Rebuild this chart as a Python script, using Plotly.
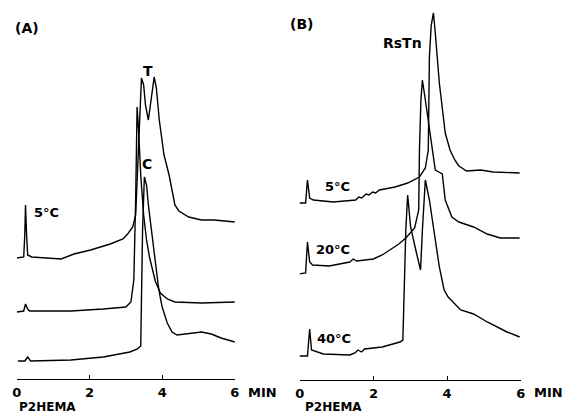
import plotly.graph_objects as go

# ---------------- Data (retention time in min, detector signal in arbitrary units) ----------------
# Panel A
a5_t = [0.00, 0.19, 0.22, 0.24, 0.27, 0.30, 0.41, 0.76, 1.22, 1.57, 2.03, 2.57, 2.92, 3.05, 3.19, 3.27,
        3.32, 3.38, 3.43, 3.49, 3.54, 3.62, 3.70, 3.78, 3.84, 3.92, 4.05, 4.19, 4.27, 4.35, 4.46, 4.73,
        5.08, 5.43, 6.00]
a5_s = [121, 122, 144, 174, 144, 124, 122, 121, 120, 125, 129, 135, 140, 145, 152, 164,
        209, 259, 301, 294, 274, 259, 279, 302, 291, 259, 224, 204, 189, 174, 168, 162,
        159, 159, 157]

a2_t = [0.00, 0.19, 0.24, 0.30, 0.35, 1.49, 2.38, 3.00, 3.14, 3.22, 3.27, 3.31, 3.35, 3.41, 3.49,
        3.57, 3.65, 3.73, 3.81, 3.95, 4.14, 4.35, 5.08, 6.00]
a2_s = [67, 68, 75, 70, 68, 68, 70, 72, 77, 99, 179, 272, 249, 204, 164,
        139, 122, 109, 98, 86, 80, 77, 76, 77]

a3_t = [0.03, 0.22, 0.30, 0.38, 1.49, 2.38, 3.11, 3.32, 3.41, 3.43, 3.46, 3.51, 3.57, 3.62, 3.73,
        3.84, 3.89, 3.95, 4.00, 4.14, 4.27, 4.41, 4.59, 4.81, 5.08, 5.35, 5.62, 6.00]
a3_s = [18, 18, 22, 18, 19, 22, 27, 30, 33, 79, 149, 202, 194, 174, 139,
        109, 94, 81, 72, 56, 47, 44, 45, 46, 47, 45, 41, 37]

# Panel B
b5_t = [-0.05, 0.16, 0.21, 0.27, 0.37, 0.91, 1.52, 1.60, 1.68, 1.80, 1.88, 1.98, 2.06, 2.16, 2.59,
        2.93, 3.25, 3.41, 3.49, 3.51, 3.52, 3.57, 3.63, 3.68, 3.79, 3.95, 4.08, 4.21, 4.32, 4.53,
        4.91, 5.25, 5.97]
b5_s = [177, 177, 200, 182, 180, 178, 180, 183, 182, 186, 185, 188, 187, 190, 193,
        197, 203, 212, 230, 280, 323, 355, 367, 347, 297, 247, 230, 220, 214, 209,
        210, 208, 207]

b20_t = [-0.05, 0.16, 0.21, 0.27, 0.35, 0.80, 1.36, 1.45, 1.55, 2.00, 2.24, 2.69, 2.88, 3.12, 3.23,
         3.25, 3.29, 3.33, 3.41, 3.52, 3.60, 3.68, 3.87, 3.95, 4.13, 4.32, 4.56, 4.72, 5.09, 5.44,
         5.97]
b20_s = [106, 107, 138, 118, 115, 114, 118, 121, 119, 121, 125, 136, 142, 152, 170,
         230, 280, 300, 280, 250, 230, 210, 206, 180, 163, 158, 155, 153, 146, 142,
         142]

b40_t = [-0.05, 0.21, 0.27, 0.32, 0.64, 1.36, 1.50, 1.58, 1.68, 1.76, 2.24, 2.72, 2.80, 2.83, 2.88,
         2.93, 3.01, 3.15, 3.28, 3.33, 3.39, 3.41, 3.52, 3.65, 3.79, 3.92, 4.03, 4.37, 4.72, 5.09,
         5.63, 5.97]
b40_s = [24, 24, 51, 30, 26, 25, 27, 30, 28, 31, 33, 38, 40, 80, 150,
         185, 153, 130, 110, 150, 197, 200, 180, 147, 113, 90, 83, 70, 66, 58,
         48, 43]

tick_vals = [0, 2, 4, 6]
tick_text = ["0", "2", "4", "6"]

FONT = "DejaVu Sans"
W, H = 568, 415

fig = go.Figure()
line = dict(color="black", width=1.4)
for t, s in [(a5_t, a5_s), (a2_t, a2_s), (a3_t, a3_s)]:
    fig.add_trace(go.Scatter(x=t, y=s, mode="lines", line=line, xaxis="x", yaxis="y",
                             showlegend=False, hoverinfo="skip", cliponaxis=False))
for t, s in [(b5_t, b5_s), (b20_t, b20_s), (b40_t, b40_s)]:
    fig.add_trace(go.Scatter(x=t, y=s, mode="lines", line=line, xaxis="x2", yaxis="y2",
                             showlegend=False, hoverinfo="skip", cliponaxis=False))

xa = dict(range=[0, 6], showline=True, linecolor="black", linewidth=1.3, ticks="inside",
          ticklen=4, tickwidth=1.3, tickcolor="black", tickvals=tick_vals, ticktext=tick_text,
          showgrid=False, zeroline=False, ticklabelstandoff=1,
          tickfont=dict(family=FONT, size=13, color="black", weight="bold"))
ya = dict(showline=False, showticklabels=False, showgrid=False, zeroline=False, ticks="")

fig.update_layout(
    width=W, height=H, autosize=False,
    margin=dict(l=0, r=0, t=0, b=0),
    paper_bgcolor="white", plot_bgcolor="white",
    xaxis=dict(xa, domain=[12 / W, 234 / W], anchor="y"),
    yaxis=dict(ya, domain=[(H - 379) / H, 1], range=[0, 379]),
    xaxis2=dict(xa, domain=[300 / W, 525 / W], anchor="y2"),
    yaxis2=dict(ya, domain=[(H - 380) / H, 1], range=[0, 380]),
)

def label(text, px, py, size=13):
    fig.add_annotation(text="<b>%s</b>" % text, x=px / W, y=1 - py / H, xref="paper", yref="paper",
                       showarrow=False, xanchor="center", yanchor="middle",
                       font=dict(family=FONT, size=size, color="black"))

label("(A)", 22, 28, 14)
label("(B)", 302, 24, 14)
label("T", 146, 71, 14)
label("C", 145, 164, 14)
label("5°C", 42, 212)
label("RsTn", 405, 43, 14)
label("5°C", 338, 186)
label("20°C", 334, 249)
label("40°C", 335, 338)
label("MIN", 262, 392)
label("MIN", 553, 392)
label("P2HEMA", 43, 407, 12)
label("P2HEMA", 334, 407, 12)

fig.write_html("out.html")
